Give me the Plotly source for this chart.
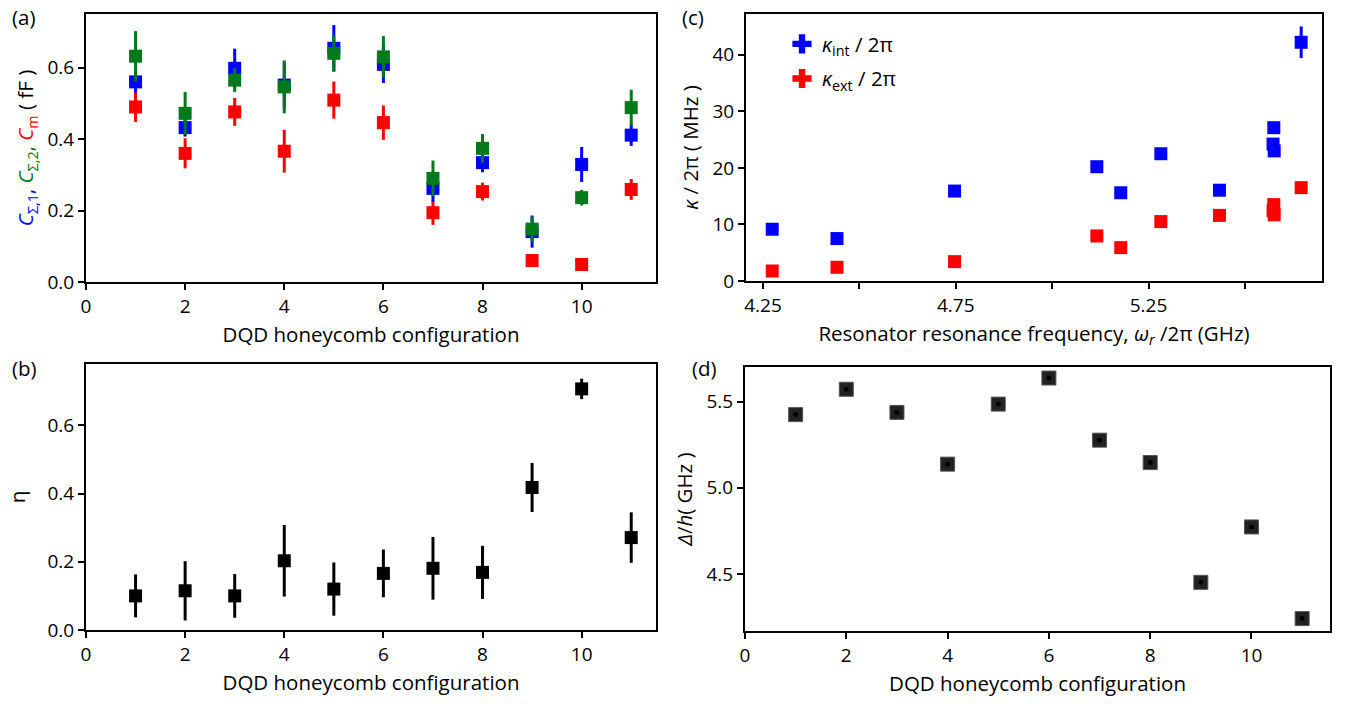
import plotly.graph_objects as go

# ---------------- data ----------------
config = [1, 2, 3, 4, 5, 6, 7, 8, 9, 10, 11]

# panel (a): capacitances (fF)
c_sigma1 = [0.560, 0.432, 0.598, 0.551, 0.654, 0.609, 0.262, 0.334, 0.141, 0.329, 0.411]
c_sigma1_err = [0.030, 0.025, 0.055, 0.065, 0.065, 0.052, 0.037, 0.027, 0.045, 0.049, 0.030]
c_sigma2 = [0.632, 0.472, 0.565, 0.546, 0.640, 0.630, 0.290, 0.374, 0.148, 0.236, 0.488]
c_sigma2_err = [0.070, 0.060, 0.033, 0.074, 0.051, 0.058, 0.050, 0.040, 0.035, 0.022, 0.050]
c_m = [0.490, 0.360, 0.476, 0.366, 0.509, 0.446, 0.194, 0.253, 0.060, 0.049, 0.259]
c_m_err = [0.042, 0.042, 0.039, 0.060, 0.052, 0.048, 0.034, 0.025, 0.017, 0.005, 0.029]

# panel (b): eta
eta = [0.100, 0.115, 0.100, 0.203, 0.120, 0.166, 0.181, 0.169, 0.418, 0.707, 0.271]
eta_err = [0.063, 0.087, 0.064, 0.105, 0.078, 0.070, 0.092, 0.078, 0.072, 0.030, 0.074]

# panel (c): resonator frequency (GHz) and linewidths (MHz)
freq = [4.274, 4.442, 4.747, 5.116, 5.178, 5.282, 5.434, 5.575, 5.573, 5.576, 5.646]
kappa_int = [9.15, 7.5, 15.9, 20.2, 15.6, 22.5, 16.05, 27.1, 24.2, 23.0, 42.2]
kappa_int_err = [0.3, 0.3, 1.0, 0.3, 0.3, 1.0, 0.3, 0.3, 0.5, 0.5, 2.8]
kappa_ext = [1.77, 2.42, 3.42, 7.96, 5.9, 10.5, 11.6, 13.5, 12.4, 11.7, 16.5]
kappa_ext_err = [0.2, 0.2, 0.3, 0.3, 0.2, 0.3, 0.3, 0.3, 0.3, 0.3, 0.4]
freq_tickvals = [4.25, 4.5, 4.75, 5.0, 5.25, 5.5]
freq_ticktext = ["4.25", "", "4.75", "", "5.25", ""]

# panel (d): Delta/h (GHz)
delta = [5.424, 5.571, 5.437, 5.137, 5.485, 5.636, 5.276, 5.146, 4.452, 4.773, 4.242]

# ---------------- figure ----------------
FONT = "Open Sans"
W, H = 1346, 704
BLUE, GREEN, RED = "#0000ff", "#007a1a", "#ff0000"
TICK_SIZE = 19
TITLE_SIZE = 20.5

fig = go.Figure()


def err_trace(x, y, e, color, xa, ya, size=13):
    return go.Scatter(
        x=x, y=y, mode="markers", xaxis=xa, yaxis=ya, showlegend=False,
        marker=dict(symbol="square", size=size, color=color),
        error_y=dict(type="data", array=e, visible=True, color=color,
                     thickness=3, width=0),
    )


# (a)
fig.add_trace(err_trace(config, c_m, c_m_err, RED, "x", "y"))
fig.add_trace(err_trace(config, c_sigma1, c_sigma1_err, BLUE, "x", "y"))
fig.add_trace(err_trace(config, c_sigma2, c_sigma2_err, GREEN, "x", "y"))

# (b)
fig.add_trace(err_trace(config, eta, eta_err, "black", "x2", "y2"))

# (c)
fig.add_trace(err_trace(freq, kappa_int, kappa_int_err, BLUE, "x3", "y3"))
fig.add_trace(err_trace(freq, kappa_ext, kappa_ext_err, RED, "x3", "y3"))
# legend entries
fig.add_trace(go.Scatter(x=[None], y=[None], mode="markers", xaxis="x3", yaxis="y3",
                         marker=dict(symbol="cross", size=22, color=BLUE),
                         name="<i>κ</i><sub>int</sub> / 2π", legendgroup="a"))
fig.add_trace(go.Scatter(x=[None], y=[None], mode="markers", xaxis="x3", yaxis="y3",
                         marker=dict(symbol="cross", size=22, color=RED),
                         name="<i>κ</i><sub>ext</sub> / 2π", legendgroup="b"))

# (d)
fig.add_trace(go.Scatter(x=config, y=delta, mode="markers", xaxis="x4", yaxis="y4",
                         showlegend=False,
                         marker=dict(symbol="square", size=14, color="#222222",
                                     line=dict(color="#555555", width=1))))
fig.add_trace(go.Scatter(x=config, y=delta, mode="markers", xaxis="x4", yaxis="y4",
                         showlegend=False,
                         marker=dict(symbol="circle", size=5, color="black")))


def px_x(a, b):
    return [a / W, b / W]


def px_y(top, bottom):
    return [1 - bottom / H, 1 - top / H]


axis_common = dict(
    showline=True, mirror=True, linecolor="black", linewidth=2,
    ticks="outside", ticklen=6, tickwidth=2, tickcolor="black",
    showgrid=False, zeroline=False, automargin=False,
    tickfont=dict(family=FONT, size=TICK_SIZE, color="black"),
    title_font=dict(family=FONT, size=TITLE_SIZE, color="black"),
)

ya_title = ('<span style="color:#0000ff"><i>C</i><sub>Σ,1</sub>,</span> '
            '<span style="color:#007a1a"><i>C</i><sub>Σ,2</sub>,</span> '
            '<span style="color:#ff0000"><i>C</i><sub>m</sub></span> ( fF )')

fig.update_layout(
    width=W, height=H,
    margin=dict(l=0, r=0, t=0, b=0),
    paper_bgcolor="white", plot_bgcolor="white",
    font=dict(family=FONT, size=TITLE_SIZE, color="black"),
    showlegend=True,
    legend=dict(x=782 / W, y=1 - 24 / H, xanchor="left", yanchor="top",
                bgcolor="rgba(0,0,0,0)", font=dict(family=FONT, size=TITLE_SIZE),
                tracegroupgap=5, itemsizing="trace"),
    xaxis=dict(axis_common, domain=px_x(86, 656), range=[0, 11.5],
               tickvals=[0, 2, 4, 6, 8, 10], anchor="y",
               title=dict(text="DQD honeycomb configuration", standoff=10)),
    yaxis=dict(axis_common, domain=px_y(14, 282), range=[0, 0.75],
               tickvals=[0, 0.2, 0.4, 0.6], tickformat=".1f", anchor="x",
               title=dict(text=ya_title, standoff=8)),
    xaxis2=dict(axis_common, domain=px_x(86, 656), range=[0, 11.5],
                tickvals=[0, 2, 4, 6, 8, 10], anchor="y2",
                title=dict(text="DQD honeycomb configuration", standoff=10)),
    yaxis2=dict(axis_common, domain=px_y(364, 630), range=[0, 0.78],
                tickvals=[0, 0.2, 0.4, 0.6], tickformat=".1f", anchor="x2",
                title=dict(text="η", standoff=16)),
    xaxis3=dict(axis_common, domain=px_x(746, 1322), range=[4.206, 5.70],
                tickvals=freq_tickvals, ticktext=freq_ticktext, anchor="y3",
                title=dict(text="Resonator resonance frequency, <i>ω<sub>r</sub></i> /2π (GHz)",
                           standoff=10)),
    yaxis3=dict(axis_common, domain=px_y(14, 281), range=[0, 47.2],
                tickvals=[0, 10, 20, 30, 40], anchor="x3",
                title=dict(text="<i>κ</i> / 2π ( MHz )", standoff=8)),
    xaxis4=dict(axis_common, domain=px_x(745, 1330), range=[0, 11.55],
                tickvals=[0, 2, 4, 6, 8, 10], anchor="y4",
                title=dict(text="DQD honeycomb configuration", standoff=10)),
    yaxis4=dict(axis_common, domain=px_y(367, 631), range=[4.17, 5.70],
                tickvals=[4.5, 5.0, 5.5], tickformat=".1f", anchor="x4",
                title=dict(text="<i>Δ</i>/<i>h</i>( GHz )", standoff=8)),
)

labels = [("(a)", 10, 1), ("(b)", 10, 352), ("(c)", 680, 1), ("(d)", 690, 352)]
for txt, px, py in labels:
    fig.add_annotation(text=txt, x=px / W, y=1 - py / H, xref="paper", yref="paper",
                       xanchor="left", yanchor="top", showarrow=False,
                       font=dict(family=FONT, size=TITLE_SIZE, color="black"))

fig.write_html("out.html")
